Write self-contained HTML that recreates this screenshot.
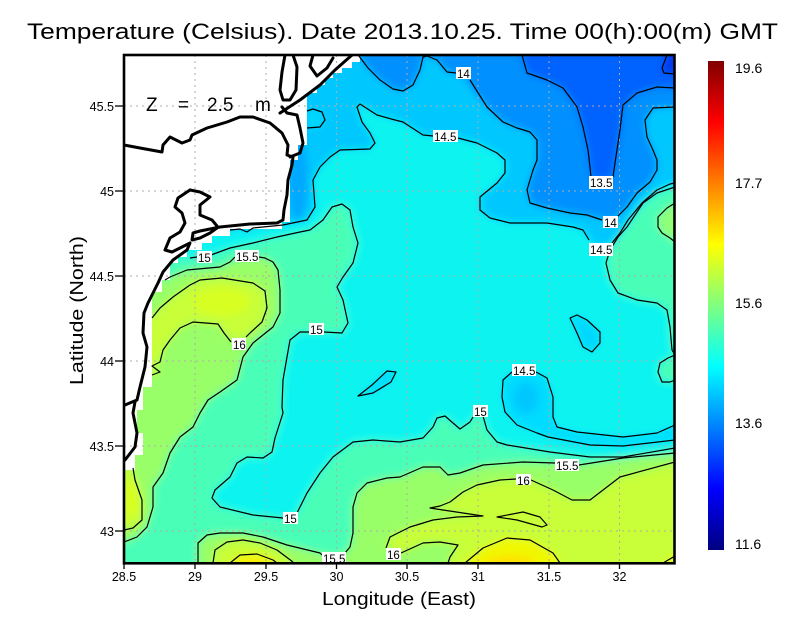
<!DOCTYPE html>
<html><head><meta charset="utf-8"><style>
html,body{margin:0;padding:0;background:#fff;}
svg{display:block;}
text{font-family:"Liberation Sans",sans-serif;fill:#000;}
</style></head><body>
<svg width="800" height="618" viewBox="0 0 800 618" xmlns="http://www.w3.org/2000/svg">
<defs>
<clipPath id="pc"><rect x="124" y="55" width="551" height="508"/></clipPath>
<filter id="bl" filterUnits="userSpaceOnUse" x="80" y="20" width="650" height="590"><feGaussianBlur stdDeviation="4"/></filter>
<linearGradient id="jet" x1="0" y1="1" x2="0" y2="0">
<stop offset="0" stop-color="#000080"/>
<stop offset="0.125" stop-color="#0000ff"/>
<stop offset="0.375" stop-color="#00ffff"/>
<stop offset="0.625" stop-color="#ffff00"/>
<stop offset="0.875" stop-color="#ff0000"/>
<stop offset="1" stop-color="#800000"/>
</linearGradient>
</defs>
<rect width="800" height="618" fill="#fff"/>

<!-- Title -->
<text x="27" y="39" font-size="22" textLength="751" lengthAdjust="spacingAndGlyphs">Temperature (Celsius). Date 2013.10.25. Time 00(h):00(m)  GMT</text>

<g clip-path="url(#pc)">
<g filter="url(#bl)">
<rect x="90" y="30" width="620" height="560" fill="#48ffb8"/>
<!-- <15 -->
<polygon fill="#0af4f0" points="190,258 211,255 230,248 253,243 277,237 300,232 310,230 323,220 332,207 342,204 350,210 353,227 358,243 353,263 343,277 337,287 343,300 348,323 342,333 309,332 300,332 290,340 287,357 283,380 282,407 283,413 275,438 272,452 263,458 247,457 237,463 230,477 215,490 212,498 220,507 253,515 290,518 297,513 307,493 320,473 333,457 353,442 373,440 400,442 423,438 433,427 437,418 445,416 453,423 460,429 470,422 478,412 483,416 487,430 497,442 507,445 550,452 590,457 623,457 690,448 690,382 670,382 662,382 658,372 660,363 668,358 675,355 672,350 670,337 670,317 667,310 657,303 637,300 618,293 610,280 606,263 610,250 618,237 627,227 643,203 657,193 675,187 690,187 690,40 110,40 110,258"/>
<!-- <14.5 north -->
<polygon fill="#00c8ff" points="225,232 240,229 247,232 253,228 283,225 307,220 315,207 313,180 320,167 330,157 340,150 370,149 375,143 370,133 362,122 357,107 360,104 377,115 395,120 403,122 423,135 445,137 458,138 477,143 497,153 505,160 505,173 497,183 480,197 480,210 490,218 510,223 547,223 573,227 583,230 590,240 600,248 612,243 620,233 628,220 642,203 657,190 670,184 690,182 690,40 110,40 110,232"/>
<ellipse cx="298" cy="180" rx="10" ry="42" fill="#00a8ff"/>
<polygon fill="#00d8ff" points="307,111 313,109 322,112 325,120 320,127 307,128"/>
<!-- <14.5 loops -->
<polygon fill="#00d8ff" points="358,396 372,385 387,371 396,372 391,382 373,393"/>
<polygon fill="#00d8ff" points="570,318 577,315 587,320 600,332 600,343 592,352 583,347 577,333"/>
<polygon fill="#00dcff" points="690,425 675,425 657,433 623,437 577,432 557,427 553,417 553,397 547,378 536,372 512,372 503,380 502,397 505,412 517,425 537,433 548,437 590,445 623,446 675,440 690,440"/>
<ellipse cx="526" cy="398" rx="13" ry="16" fill="#00c8ff"/>
<!-- <14 -->
<polygon fill="#0090ff" points="355,40 358,55 362,60 368,68 380,80 393,89 403,91 413,85 420,70 423,57 427,56 437,60 447,72 463,75 470,87 487,107 503,122 517,128 530,132 537,140 537,160 533,170 527,190 530,203 547,208 570,213 587,215 610,220 617,217 627,207 637,193 650,182 657,170 657,160 653,150 647,137 645,120 653,108 690,107 690,40"/>
<!-- <13.5 -->
<polygon fill="#0062ff" points="520,40 522,55 527,73 547,80 563,88 577,107 583,127 588,150 590,167 592,178 601,180 612,178 615,163 620,130 623,105 637,93 657,87 675,88 690,88 690,40"/>
<polygon fill="#0038f0" points="667,40 667,55 662,68 664,73 675,74 690,74 690,40"/>
<!-- >15.5 -->
<polygon fill="#98ff68" points="110,280 165,280 170,277 187,270 220,267 230,262 247,257 265,258 273,262 278,270 280,290 280,313 273,327 253,343 243,357 237,380 220,392 208,400 200,413 193,427 180,437 170,453 163,473 153,487 153,507 147,527 137,537 124,542 110,545"/>
<polygon fill="#98ff68" points="190,580 198,563 198,543 207,535 220,533 243,533 263,537 287,545 320,553 333,556 345,553 350,547 353,533 353,507 357,493 367,483 387,478 400,477 423,467 440,467 448,475 460,473 483,465 523,462 567,464 579,465 623,458 690,452 690,580"/>
<polygon fill="#90ff78" points="690,203 675,203 667,208 658,217 658,227 662,233 670,238 675,242 690,242"/>
<!-- >16 -->
<polygon fill="#c8ff38" points="110,318 152,318 160,308 173,297 190,285 200,280 222,278 253,283 265,291 267,308 262,322 250,333 238,342 224,333 218,324 193,322 180,328 170,340 163,350 160,362 152,366 160,372 152,375 110,375"/>
<ellipse cx="222" cy="302" rx="28" ry="14" fill="#d8ff20"/>
<polygon fill="#c8ff38" points="110,465 133,468 135,480 142,500 142,520 133,528 110,530"/>
<ellipse cx="132" cy="498" rx="8" ry="20" fill="#d8ff20"/>
<polygon fill="#c8ff38" points="386,548 390,537 410,527 433,520 457,517 483,516 443,510 430,508 440,506 450,502 463,492 477,485 500,480 523,479 531,480 553,490 572,500 590,500 620,477 690,461 690,580 448,580 448,563 450,557 458,545 440,542 423,543 401,553"/>
<polygon fill="#c8ff38" points="213,580 213,563 215,550 227,542 243,540 260,543 277,550 293,562 295,580"/>
<!-- >16.5 -->
<polygon fill="#f0f800" points="228,580 230,563 240,555 257,554 273,560 277,563 280,580"/>
<polygon fill="#f0f800" points="462,580 465,563 483,548 507,538 530,540 553,553 560,563 562,580"/>
<ellipse cx="510" cy="565" rx="26" ry="9" fill="#ffe000"/>
<ellipse cx="253" cy="566" rx="14" ry="6" fill="#ffe800"/>
<polygon fill="#e8fc10" points="660,580 663,563 675,556 690,550 690,580"/>
</g>

<!-- land mask -->
<polygon fill="#fff" points="118,50 360,50 360,62 352,62 352,68 342,68 342,73 333,73 333,78 325,78 325,85 317,85 317,93 307,93 307,145 298,145 298,160 290,160 290,222 282,222 282,229 230,229 230,236 212,236 212,243 202,243 202,250 187,250 187,257 178,257 178,263 170,263 170,280 162,280 162,292 152,292 152,387 143,387 143,410 137,410 137,433 143,433 143,455 135,455 135,470 125,470 125,478 118,478"/>

<!-- grid -->
<g stroke="#b4a8a8" stroke-width="1" stroke-dasharray="2,4" fill="none">
<line x1="195" y1="55" x2="195" y2="563"/>
<line x1="266" y1="55" x2="266" y2="563"/>
<line x1="336.5" y1="55" x2="336.5" y2="563"/>
<line x1="407" y1="55" x2="407" y2="563"/>
<line x1="478" y1="55" x2="478" y2="563"/>
<line x1="549" y1="55" x2="549" y2="563"/>
<line x1="619.5" y1="55" x2="619.5" y2="563"/>
<line x1="124" y1="106" x2="675" y2="106"/>
<line x1="124" y1="191" x2="675" y2="191"/>
<line x1="124" y1="276" x2="675" y2="276"/>
<line x1="124" y1="361" x2="675" y2="361"/>
<line x1="124" y1="446" x2="675" y2="446"/>
<line x1="124" y1="531" x2="675" y2="531"/>
</g>

<!-- contours -->
<g stroke="#000" stroke-width="1.2" fill="none" stroke-linejoin="round">
<path d="M667,55 L662,68 L664,73 L675,74"/>
<path d="M522,55 L527,73 L547,80 L563,88 L577,107 L583,127 L588,150 L590,167 L591,177 M613,177 L615,163 L620,130 L623,105 L637,93 L657,87 L675,88"/>
<path d="M358,55 L362,60 L368,68 L380,80 L393,89 L403,91 L413,85 L420,70 L423,57 L427,56 L437,60 L447,72 L456,73 M470,80 L487,107 L503,122 L517,128 L530,132 L537,140 L537,160 L533,170 L527,190 L530,203 L547,208 L570,213 L587,215 L602,220 M617,217 L627,207 L637,193 L650,182 L657,170 L657,160 L653,150 L647,137 L645,120 L653,108 L675,107"/>
<path d="M230,230 L240,229 L247,232 L253,228 L283,225 L307,220 L315,207 L313,180 L320,167 L330,157 L340,150 L370,149 L375,143 L370,133 L362,122 L357,107 L360,104 L377,115 L395,120 L403,122 L423,135 L433,136 M458,138 L477,143 L497,153 L505,160 L505,173 L497,183 L480,197 L480,210 L490,218 L510,223 L547,223 L573,227 L583,230 L589,240 M612,243 L620,233 L628,220 L642,203 L657,190 L670,184 L675,183"/>
<path d="M307,111 L313,109 L322,112 L325,120 L320,127 L307,128"/>
<path d="M190,258 L197,257 M211,255 L230,248 L253,243 L277,237 L300,232 L310,230 L323,220 L332,207 L342,204 L350,210 L353,227 L358,243 L353,263 L343,277 L337,287 L343,300 L348,323 L342,333 L324,332 M309,332 L300,332 L290,340 L287,357 L283,380 L282,407 L283,413 L275,438 L272,452 L263,458 L247,457 L237,463 L230,477 L215,490 L212,498 L220,507 L253,515 L283,518 M297,513 L307,493 L320,473 L333,457 L353,442 L373,440 L400,442 L423,438 L433,427 L437,418 L445,416 L453,423 L460,429 L470,422 L473,417 M483,416 L487,430 L497,442 L507,445 L550,452 L590,457 L623,457 L675,448"/>
<path d="M675,187 L657,193 L643,203 L627,227 L618,237 L610,250 L606,263 L610,280 L618,293 L637,300 L657,303 L667,310 L670,327 L672,350 L675,355"/>
<path d="M675,355 L668,358 L660,363 L658,372 L662,382 L670,382 L675,380"/>
<path d="M675,203 L667,208 L658,217 L658,227 L662,233 L670,238 L675,242"/>
<path d="M358,396 L372,385 L387,371 L396,372 L391,382 L373,393 Z"/>
<path d="M570,318 L577,315 L587,320 L600,332 L600,343 L592,352 L583,347 L577,333 Z"/>
<path d="M675,425 L657,433 L623,437 L577,432 L557,427 L553,417 L553,397 L547,378 L536,372 M512,372 L503,380 L502,397 L505,412 L517,425 L537,433 L548,437 L590,445 L623,446 L675,440"/>
<path d="M165,280 L170,277 L187,270 L220,267 L230,262 L235,257 M259,257 L265,258 L273,262 L278,270 L280,290 L280,313 L273,327 L253,343 L243,357 L237,380 L220,392 L208,400 L200,413 L193,427 L180,437 L170,453 L163,473 L153,487 L153,507 L147,527 L137,537 L124,542"/>
<path d="M198,563 L198,543 L207,535 L220,533 L243,533 L263,537 L287,545 L320,553 L322,555 M345,553 L350,547 L353,533 L353,507 L357,493 L367,483 L387,478 L400,477 L423,467 L440,467 L448,475 L460,473 L483,465 L523,462 L555,463 M579,465 L623,458 L675,453"/>
<path d="M152,318 L160,308 L173,297 L190,285 L200,280 L222,278 L253,283 L265,291 L267,308 L262,322 L250,333 L246,337 M231,342 L224,333 L218,324 L193,322 L180,328 L170,340 L163,350 L160,362 L152,366 L160,372 L152,375"/>
<path d="M133,468 L135,480 L142,500 L142,520 L133,528 L124,530"/>
<path d="M386,548 L390,537 L410,527 L433,520 L457,517 L483,516 L443,510 L430,508 L440,506 L450,502 L463,492 L477,485 L500,480 L516,479 M531,480 L553,490 L572,500 L590,500 L620,477 L675,462"/>
<path d="M401,553 L423,543 L440,542 L458,545 L450,557 L448,563"/>
<path d="M497,517 L523,512 L540,517 L547,525 L542,527 L517,520 Z"/>
<path d="M213,563 L215,550 L227,542 L243,540 L260,543 L277,550 L293,562"/>
<path d="M230,563 L240,555 L257,554 L273,560 L277,563"/>
<path d="M465,563 L483,548 L507,538 L530,540 L553,553 L560,563"/>
<path d="M663,563 L675,556"/>
</g>

<!-- contour labels -->
<g font-size="11.5">
<rect x="456" y="67" width="15" height="12" fill="#fff"/><text x="457" y="78">14</text>
<rect x="589" y="176" width="24" height="13" fill="#fff"/><text x="590" y="187">13.5</text>
<rect x="603" y="216" width="15" height="12" fill="#fff"/><text x="604" y="227">14</text>
<rect x="433" y="130" width="25" height="12" fill="#fff"/><text x="434" y="141">14.5</text>
<rect x="589" y="243" width="24" height="13" fill="#fff"/><text x="590" y="254">14.5</text>
<rect x="197" y="251" width="15" height="12" fill="#fff"/><text x="198" y="262">15</text>
<rect x="235" y="250" width="24" height="12" fill="#fff"/><text x="236" y="261">15.5</text>
<rect x="232" y="338" width="14" height="12" fill="#fff"/><text x="233" y="349">16</text>
<rect x="309" y="323" width="15" height="12" fill="#fff"/><text x="310" y="334">15</text>
<rect x="512" y="364" width="24" height="12" fill="#fff"/><text x="513" y="375">14.5</text>
<rect x="473" y="405" width="15" height="12" fill="#fff"/><text x="474" y="416">15</text>
<rect x="555" y="459" width="24" height="12" fill="#fff"/><text x="556" y="470">15.5</text>
<rect x="516" y="474" width="15" height="11" fill="#fff"/><text x="517" y="485">16</text>
<rect x="283" y="512" width="15" height="12" fill="#fff"/><text x="284" y="523">15</text>
<rect x="322" y="552" width="24" height="11" fill="#fff"/><text x="323" y="563">15.5</text>
<rect x="386" y="548" width="15" height="12" fill="#fff"/><text x="387" y="559">16</text>
</g>

<!-- coastlines -->
<g stroke="#000" stroke-width="3" fill="none" stroke-linejoin="round" stroke-linecap="round">
<path d="M124,145 L140,148 L162,152 L163,145 L170,137 L182,143 L190,140 L192,135 L207,128 L227,122 L240,117 L253,117 L270,123 L282,133 L288,145 L287,155 L293,157 L292,165 L288,180 L287,195 L284,210 L283,220 L277,223 L250,224 L220,227 L200,231 L193,233 L192,240 L200,238 L210,233 L217,228"/>
<path d="M190,190 L178,198 L175,207 L182,213 L185,223 L180,232 L170,238 L165,250 L172,252 L182,247 L190,243 L187,250 L173,260 L163,272 L158,283 L153,293 L148,303 L144,313 L143,333 L147,347 L145,367 L140,387 L137,400 L125,405"/>
<path d="M190,190 L200,192 L210,197 L200,205 L200,215 L212,220 L217,226"/>
<path d="M135,402 L133,413 L137,433 L135,447 L125,460"/>
<path d="M285,55 L282,72 L280,90 L283,100 L290,100 L296,90 L297,67 L293,55"/>
<path d="M280,113 L300,100 L320,85 L335,70 L352,55"/>
<path d="M313,55 L310,66 L317,76 L327,68 L333,58"/>
<path d="M282,107 L287,113 L297,115 L300,128 L303,143 L300,153 L290,157"/>
</g>
<text x="146" y="111" font-size="19">Z</text>
<text x="178" y="111" font-size="19">=</text>
<text x="207" y="111" font-size="19">2.5</text>
<text x="255" y="111" font-size="19">m</text>
</g>

<!-- frame -->
<rect x="124" y="55" width="550.5" height="508.3" fill="none" stroke="#000" stroke-width="2.6"/>

<!-- ticks -->
<g stroke="#000" stroke-width="1.3">
<line x1="115" y1="106" x2="124" y2="106"/><line x1="115" y1="191" x2="124" y2="191"/>
<line x1="115" y1="276" x2="124" y2="276"/><line x1="115" y1="361" x2="124" y2="361"/>
<line x1="115" y1="446" x2="124" y2="446"/><line x1="115" y1="531" x2="124" y2="531"/>
<line x1="124" y1="563" x2="124" y2="569"/><line x1="195" y1="563" x2="195" y2="569"/>
<line x1="266" y1="563" x2="266" y2="569"/><line x1="336.5" y1="563" x2="336.5" y2="569"/>
<line x1="407" y1="563" x2="407" y2="569"/><line x1="478" y1="563" x2="478" y2="569"/>
<line x1="549" y1="563" x2="549" y2="569"/><line x1="619.5" y1="563" x2="619.5" y2="569"/>
</g>
<g font-size="12.5" text-anchor="end">
<text x="114" y="111">45.5</text><text x="114" y="196">45</text>
<text x="114" y="281">44.5</text><text x="114" y="366">44</text>
<text x="114" y="451">43.5</text><text x="114" y="536">43</text>
</g>
<g font-size="12.5" text-anchor="middle">
<text x="124" y="581">28.5</text><text x="195" y="581">29</text>
<text x="266" y="581">29.5</text><text x="336.5" y="581">30</text>
<text x="407" y="581">30.5</text><text x="478" y="581">31</text>
<text x="549" y="581">31.5</text><text x="619.5" y="581">32</text>
</g>

<!-- axis titles -->
<text x="322" y="605" font-size="18" textLength="154" lengthAdjust="spacingAndGlyphs">Longitude (East)</text>
<text transform="translate(83,385) rotate(-90)" font-size="18" textLength="149" lengthAdjust="spacingAndGlyphs">Latitude (North)</text>

<!-- colorbar -->
<rect x="708" y="61" width="16" height="489" fill="url(#jet)"/>
<g font-size="14">
<text x="735" y="73">19.6</text>
<text x="735" y="188">17.7</text>
<text x="735" y="308">15.6</text>
<text x="735" y="428">13.6</text>
<text x="735" y="549">11.6</text>
</g>
</svg>
</body></html>
